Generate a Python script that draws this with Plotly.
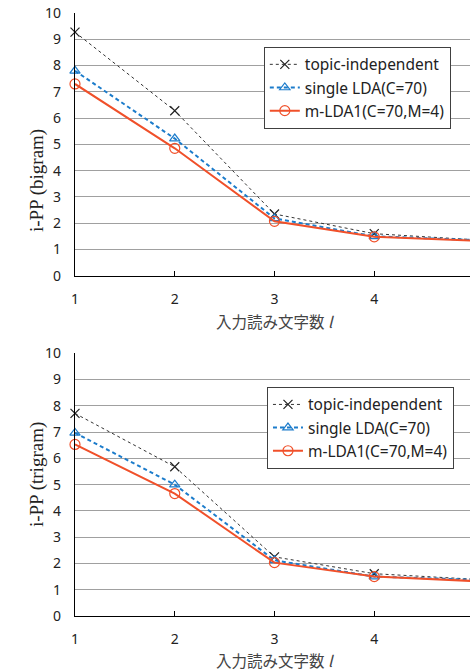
import plotly.graph_objects as go

# ---- data ----
x_vals = [1, 2, 3, 4, 5]
series_names = ["topic-independent", "single LDA(C=70)", "m-LDA1(C=70,M=4)"]
bigram_topic_indep = [9.27, 6.28, 2.35, 1.60, 1.37]
bigram_single_lda = [7.80, 5.22, 2.18, 1.50, 1.36]
bigram_m_lda1 = [7.30, 4.85, 2.07, 1.48, 1.33]
trigram_topic_indep = [7.71, 5.68, 2.25, 1.61, 1.40]
trigram_single_lda = [6.97, 5.00, 2.12, 1.50, 1.38]
trigram_m_lda1 = [6.53, 4.66, 2.03, 1.50, 1.33]
y_ticks = list(range(0, 11))
x_ticks = [1, 2, 3, 4, 5]
y_titles = ["i-PP (bigram)", "i-PP (trigram)"]
x_title = "入力読み文字数 <i>l</i>"

styles = [
    dict(line=dict(color="#333333", width=1, dash="dot"),
         marker=dict(symbol="x-thin", size=9, line=dict(color="#222222", width=1.2))),
    dict(line=dict(color="#1C7CCB", width=2, dash="4px,3px"),
         marker=dict(symbol="triangle-up-open", size=9, color="#1C7CCB", line=dict(width=1.2))),
    dict(line=dict(color="#F0502A", width=2),
         marker=dict(symbol="circle-open", size=10, color="#F0502A", line=dict(width=1.2))),
]

fig = go.Figure()
panels = [
    ([bigram_topic_indep, bigram_single_lda, bigram_m_lda1], "x", "y", "legend"),
    ([trigram_topic_indep, trigram_single_lda, trigram_m_lda1], "x2", "y2", "legend2"),
]
for pi, (series, xa, ya, lg) in enumerate(panels):
    for name, vals, st in zip(series_names, series, styles):
        fig.add_trace(go.Scatter(
            x=x_vals, y=vals, name=name, mode="lines+markers",
            xaxis=xa, yaxis=ya, legend=lg, legendgroup=f"{pi}-{name}",
            line=st["line"], marker=st["marker"], cliponaxis=False,
        ))

tick_font = dict(family="Noto Sans", size=14, color="#222222")
xcommon = dict(range=[1, 4.96], tickvals=x_ticks, showgrid=False, showline=True,
               linecolor="#000000", linewidth=1.3, ticks="inside", ticklen=5,
               tickcolor="#000000", tickfont=tick_font, ticklabelstandoff=10,
               zeroline=False)
ycommon = dict(range=[0, 10], tickvals=y_ticks, showgrid=True, gridcolor="#A0A0A0",
               gridwidth=1, showline=True, linecolor="#000000", linewidth=1.3,
               ticks="", tickfont=tick_font, ticklabelstandoff=10, zeroline=False)

legend_common = dict(xanchor="left", yanchor="top", bgcolor="#FFFFFF",
                     bordercolor="#404040", borderwidth=1, traceorder="grouped",
                     tracegroupgap=0,
                     font=dict(family="Noto Sans", size=15.5, color="#222222"))

fig.update_layout(
    width=470, height=671,
    margin=dict(l=75, r=0, t=13, b=55),
    paper_bgcolor="#FFFFFF", plot_bgcolor="#FFFFFF",
    showlegend=True,
    xaxis=dict(anchor="y", domain=[0, 1], **xcommon),
    yaxis=dict(anchor="x", domain=[0.5643, 1], **ycommon),
    xaxis2=dict(anchor="y2", domain=[0, 1], **xcommon),
    yaxis2=dict(anchor="x2", domain=[0, 0.4357], **ycommon),
    legend=dict(x=0.478, y=0.944, **legend_common),
    legend2=dict(x=0.486, y=0.380, **legend_common),
)

title_font_jp = dict(family="Noto Sans CJK JP", size=15.5, color="#444444")
title_font_y = dict(family="Liberation Serif", size=19, color="#222222")
annotations = [
    dict(text=x_title, x=0.506, y=0.4892, xref="paper", yref="paper",
         showarrow=False, font=title_font_jp, xanchor="center", yanchor="middle"),
    dict(text=x_title, x=0.506, y=-0.073, xref="paper", yref="paper",
         showarrow=False, font=title_font_jp, xanchor="center", yanchor="middle"),
    dict(text=y_titles[0], x=-0.096, y=0.7214, xref="paper", yref="paper",
         showarrow=False, font=title_font_y, textangle=-90,
         xanchor="center", yanchor="middle"),
    dict(text=y_titles[1], x=-0.096, y=0.2338, xref="paper", yref="paper",
         showarrow=False, font=title_font_y, textangle=-90,
         xanchor="center", yanchor="middle"),
]
fig.update_layout(annotations=annotations)

fig.write_html("out.html")
